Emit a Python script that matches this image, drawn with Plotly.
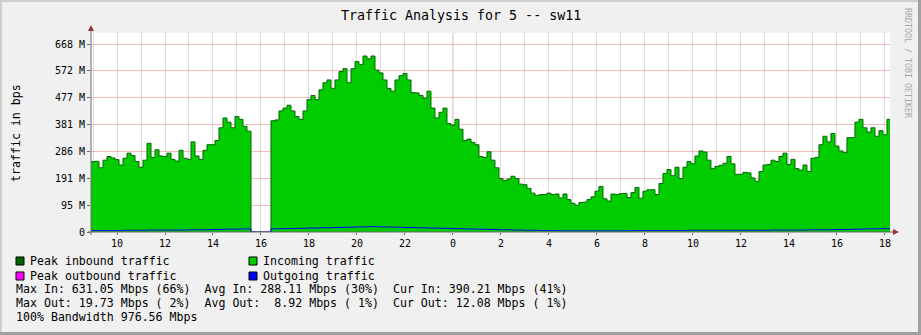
import plotly.graph_objects as go

# ---------------- data ----------------
T_START = 8.9167          # hours (day 1), first sample
STEP_H = 1 / 6            # 10-minute samples

incoming = [
    250, 251, 228, 255, 268, 263, 257, 238, 262, 280,
    272, 250, 230, 255, 315, 265, 292, 270, 268, 280,
    258, 252, 290, 262, 258, 320, 270, 258, 290, 310,
    310, 325, 370, 405, 390, 370, 410, 400, 375, 358,
    0, 0, 0, 0, 0, 395, 398, 430, 440, 450,
    430, 410, 400, 430, 470, 485, 470, 505, 530, 540,
    510, 540, 570, 580, 530, 580, 605, 595, 625, 615,
    625, 575, 565, 540, 510, 500, 540, 555, 563, 540,
    495, 494, 485, 475, 500, 440, 405, 425, 440, 385,
    380, 400, 365, 325, 330, 318, 310, 268, 265, 285,
    255, 228, 190, 182, 188, 198, 190, 170, 168, 155,
    138, 130, 133, 133, 138, 133, 135, 121, 135, 115,
    102, 95, 105, 106, 115, 125, 145, 162, 118, 110,
    135, 133, 136, 137, 122, 140, 158, 120, 145, 150,
    150, 133, 172, 208, 222, 200, 230, 190, 230, 250,
    242, 270, 288, 284, 255, 225, 233, 237, 244, 268,
    242, 205, 205, 212, 210, 192, 180, 215, 238, 240,
    255, 250, 268, 280, 240, 258, 225, 220, 238, 215,
    262, 265, 310, 340, 320, 350, 305, 288, 282, 335,
    335, 390, 400, 370, 355, 370, 340, 360, 345, 400,
    405,
]

outgoing = [
    5, 5, 5, 5, 5, 5, 5, 5, 6, 6,
    6, 6, 6, 6, 7, 7, 7, 7, 7, 7,
    7, 7, 7, 7, 8, 8, 8, 8, 8, 8,
    9, 9, 9, 10, 10, 10, 10, 11, 11, 11,
    0, 0, 0, 0, 0, 11, 11, 12, 12, 12,
    12, 13, 13, 13, 14, 14, 14, 15, 15, 15,
    16, 16, 16, 17, 17, 17, 18, 18, 18, 19,
    19, 19, 18, 18, 18, 17, 17, 17, 16, 16,
    16, 15, 15, 15, 14, 14, 14, 13, 13, 13,
    12, 12, 12, 11, 11, 11, 10, 10, 10, 9,
    9, 9, 8, 8, 8, 7, 7, 7, 6, 6,
    6, 6, 5, 5, 5, 5, 5, 4, 4, 4,
    4, 4, 4, 4, 4, 4, 4, 4, 4, 4,
    4, 4, 4, 4, 4, 5, 5, 5, 5, 5,
    5, 5, 5, 5, 5, 5, 5, 5, 5, 6,
    6, 6, 6, 6, 6, 6, 6, 6, 6, 6,
    6, 6, 6, 6, 6, 6, 6, 6, 6, 6,
    7, 7, 7, 7, 7, 7, 7, 7, 7, 8,
    8, 8, 8, 8, 8, 8, 9, 9, 9, 9,
    10, 10, 10, 11, 11, 11, 11, 12, 12, 12,
    12,
]

x_tickvals = [10, 12, 14, 16, 18, 20, 22, 24, 26, 28, 30, 32, 34, 36, 38, 40, 42]
x_ticktext = ["10", "12", "14", "16", "18", "20", "22", "0", "2", "4", "6", "8",
              "10", "12", "14", "16", "18"]
y_tickvals = [0, 95.37, 190.73, 286.1, 381.47, 476.84, 572.2, 667.57]
y_ticktext = ["0", "95 M", "191 M", "286 M", "381 M", "477 M", "572 M", "668 M"]

legend_items = [
    ("Peak inbound traffic", "#006600"),
    ("Incoming traffic", "#00cc00"),
    ("Peak outbound traffic", "#ff00ff"),
    ("Outgoing traffic", "#0000ff"),
]
stat_lines = [
    "Max In: 631.05 Mbps (66%)  Avg In: 288.11 Mbps (30%)  Cur In: 390.21 Mbps (41%)",
    "Max Out: 19.73 Mbps ( 2%)  Avg Out:  8.92 Mbps ( 1%)  Cur Out: 12.08 Mbps ( 1%)",
    "100% Bandwidth 976.56 Mbps",
]

times = [T_START + i * STEP_H for i in range(len(incoming))]

# ---------------- layout geometry (pixels) ----------------
W, H = 921, 335
L, R, T, B = 91, 890, 33, 232
MONO = "DejaVu Sans Mono"


def px(x):
    return (x - L) / (R - L)


def py(y):
    return (B - y) / (B - T)


fig = go.Figure()
fig.add_trace(go.Scatter(
    x=times, y=incoming, mode="lines", line=dict(color="#006600", width=1, shape="hv"),
    fill="tozeroy", fillcolor="#00cc00", name="Incoming traffic", showlegend=False,
    hoverinfo="skip"))
fig.add_trace(go.Scatter(
    x=times, y=outgoing, mode="lines", line=dict(color="#0000ff", width=1, shape="hv"),
    name="Outgoing traffic", showlegend=False, hoverinfo="skip"))

shapes = []
# outer 3D frame
shapes.append(dict(type="rect", xref="paper", yref="paper", x0=px(0), x1=px(W), y0=py(0), y1=py(2),
                   fillcolor="#cfcfcf", line=dict(width=0), layer="below"))
shapes.append(dict(type="rect", xref="paper", yref="paper", x0=px(0), x1=px(2), y0=py(0), y1=py(H),
                   fillcolor="#cfcfcf", line=dict(width=0), layer="below"))
shapes.append(dict(type="rect", xref="paper", yref="paper", x0=px(W - 3), x1=px(W), y0=py(0), y1=py(H),
                   fillcolor="#a0a0a0", line=dict(width=0), layer="below"))
shapes.append(dict(type="rect", xref="paper", yref="paper", x0=px(0), x1=px(W), y0=py(H - 3), y1=py(H),
                   fillcolor="#a0a0a0", line=dict(width=0), layer="below"))
# midnight major grid line
shapes.append(dict(type="line", xref="x", yref="paper", x0=24, x1=24, y0=0, y1=1,
                   line=dict(color="rgba(235,120,120,0.6)", width=1), layer="below"))
# axis lines with arrows
shapes.append(dict(type="line", xref="paper", yref="paper", x0=px(L), x1=px(L), y0=py(B + 3), y1=py(28),
                   line=dict(color="#6a6a6a", width=1)))
shapes.append(dict(type="line", xref="paper", yref="paper", x0=px(L - 3), x1=px(895), y0=py(B), y1=py(B),
                   line=dict(color="#6a6a6a", width=1)))
shapes.append(dict(type="path", xref="paper", yref="paper",
                   path=f"M {px(L-3)},{py(31)} L {px(L+3)},{py(31)} L {px(L)},{py(25)} Z",
                   fillcolor="#a03030", line=dict(width=0)))
shapes.append(dict(type="path", xref="paper", yref="paper",
                   path=f"M {px(893)},{py(B-3)} L {px(893)},{py(B+3)} L {px(899)},{py(B)} Z",
                   fillcolor="#a03030", line=dict(width=0)))

annotations = []
# title
annotations.append(dict(text="Traffic Analysis for 5 -- sw11", x=px(460.5), y=py(16), xref="paper", yref="paper",
                        showarrow=False, xanchor="center", yanchor="middle",
                        font=dict(family=MONO, size=13.3, color="#000")))
# y axis title
annotations.append(dict(text="traffic in bps", x=px(16), y=py(133), xref="paper", yref="paper",
                        showarrow=False, textangle=-90, xanchor="center", yanchor="middle",
                        font=dict(family=MONO, size=11.6, color="#000")))
# watermark
annotations.append(dict(text="RRDTOOL / TOBI OETIKER", x=px(908), y=py(63), xref="paper", yref="paper",
                        showarrow=False, textangle=90, xanchor="center", yanchor="middle",
                        font=dict(family=MONO, size=8.3, color="#a8a8a8")))

# legend squares + text
leg_pos = [(16, 261), (249, 261), (16, 276), (249, 276)]
for (label, col), (lx, ly) in zip(legend_items, leg_pos):
    shapes.append(dict(type="rect", xref="paper", yref="paper", x0=px(lx), x1=px(lx + 8),
                       y0=py(ly - 4), y1=py(ly + 4), fillcolor=col, line=dict(color="#000", width=1)))
    annotations.append(dict(text=label.replace(" ", "\u00a0"), x=px(lx + 14), y=py(ly), xref="paper",
                            yref="paper", showarrow=False, xanchor="left", yanchor="middle",
                            borderpad=0, borderwidth=0,
                            font=dict(family=MONO, size=11.6, color="#000")))
for line, ly in zip(stat_lines, [289, 303, 317]):
    annotations.append(dict(text=line.replace(" ", "\u00a0"), x=px(16), y=py(ly), xref="paper",
                            yref="paper", showarrow=False, xanchor="left", yanchor="middle",
                            borderpad=0, borderwidth=0,
                            font=dict(family=MONO, size=11.6, color="#000")))

fig.update_layout(
    width=W, height=H,
    margin=dict(l=L, r=W - R, t=T, b=H - B, pad=0),
    paper_bgcolor="#f0f0f0", plot_bgcolor="#ffffff",
    showlegend=False,
    shapes=shapes, annotations=annotations,
    xaxis=dict(range=[T_START, 42.21], tickmode="array", tickvals=x_tickvals, ticktext=x_ticktext,
               showgrid=True, gridcolor="#dcdcdc", gridwidth=1, zeroline=False,
               ticks="outside", ticklen=2, tickcolor="#6a6a6a", showline=False,
               tickfont=dict(family=MONO, size=10, color="#000"),
               minor=dict(tickmode="linear", tick0=0, dtick=1, showgrid=True, gridcolor="#dcdcdc",
                          gridwidth=1, ticks="")),
    yaxis=dict(range=[0, 706.7], tickmode="array", tickvals=y_tickvals, ticktext=y_ticktext,
               showgrid=True, gridcolor="rgba(235,120,120,0.5)", gridwidth=1, zeroline=False,
               ticks="outside", ticklen=3, tickcolor="#6a6a6a", showline=False,
               tickfont=dict(family=MONO, size=10, color="#000")),
)

fig.write_html("out.html")
